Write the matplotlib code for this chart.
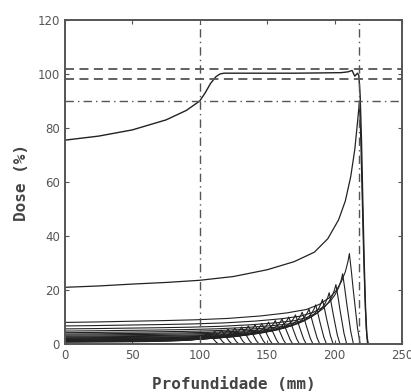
import matplotlib
matplotlib.use("Agg")
import matplotlib.pyplot as plt
import numpy as np

# spread-out Bragg peak (sum curve)
sobp_depth = [0, 25, 50, 75, 90, 100, 104, 108, 112, 115, 118, 130, 150, 170,
              190, 205, 210, 213, 215, 217, 218, 219, 220, 221, 222, 223, 224, 225]
sobp_dose = [75.5, 77.0, 79.3, 83.0, 86.5, 90.0, 93.0, 96.5, 99.0, 100.0, 100.3,
             100.3, 100.3, 100.3, 100.4, 100.5, 100.8, 101.3, 99.2, 100.3, 99.5,
             92.0, 75.0, 52.0, 30.0, 13.0, 3.0, 0.0]

# deepest pristine peak (range 218 mm)
main_depth = [0, 25, 50, 75, 100, 125, 150, 170, 185, 195, 203, 208, 212, 215,
              217, 218.5, 219.5, 220.5, 221.5, 222.5, 223.5, 224.5]
main_dose = [21.0, 21.5, 22.2, 22.8, 23.6, 25.0, 27.5, 30.5, 34.0, 39.0, 46.0,
             53.0, 62.0, 72.0, 82.0, 90.0, 75.0, 55.0, 35.0, 18.0, 6.0, 0.0]

# shallower weighted peaks: peak depth, peak dose, entrance dose
peak_depth = [211, 206, 201, 196, 191, 186, 181, 176, 171, 166, 161,
              156, 151, 146, 141, 136, 131, 126, 121, 116, 111, 106]
peak_dose = [33.5, 26.0, 22.0, 19.0, 16.5, 14.5, 13.0, 11.8, 10.8, 10.0, 9.3,
             8.7, 8.1, 7.6, 7.1, 6.7, 6.3, 5.9, 5.5, 5.1, 4.7, 4.3]
entrance_dose = [8.0, 6.7, 5.6, 4.8, 4.2, 3.7, 3.3, 2.9, 2.6, 2.3, 2.1,
                 1.9, 1.7, 1.5, 1.4, 1.3, 1.2, 1.1, 1.0, 0.9, 0.8, 0.7]

# peak shape, taken from the deepest curve (relative depth -> relative rise)
rise_u = [0, 0.115, 0.229, 0.344, 0.459, 0.573, 0.688, 0.780, 0.849, 0.894,
          0.931, 0.954, 0.972, 0.986, 0.995, 1.0]
rise_g = [0, 0.007, 0.017, 0.026, 0.038, 0.058, 0.094, 0.138, 0.188, 0.261,
          0.362, 0.464, 0.594, 0.739, 0.884, 1.0]
fall_mm = [1.5, 3, 4.5, 6, 8]
fall_frac = [0.8, 0.58, 0.38, 0.18, 0.0]

fig = plt.figure(figsize=(4.11, 3.92), dpi=100)
ax = fig.add_axes([0.158, 0.1224, 0.82, 0.8266])

line_c = '#222222'
ref_c = '#555555'

for R, P, E in zip(peak_depth, peak_dose, entrance_dose):
    x = [u * R for u in rise_u] + [R + d for d in fall_mm]
    y = [E + (P - E) * g for g in rise_g] + [P * f for f in fall_frac]
    ax.plot(x, y, color=line_c, lw=0.8)

ax.plot(main_depth, main_dose, color=line_c, lw=0.9)
ax.plot(sobp_depth, sobp_dose, color=line_c, lw=1.0)

# reference lines
ax.axhline(102, color=ref_c, lw=1.3, ls=(0, (5, 3)))
ax.axhline(98, color=ref_c, lw=1.3, ls=(0, (5, 3)))
ax.axhline(90, color=ref_c, lw=1.0, ls=(0, (6, 3, 1, 3)))
ax.axvline(100, color=ref_c, lw=1.0, ls=(0, (6, 3, 1, 3)))
ax.axvline(218, color=ref_c, lw=1.0, ls=(0, (6, 3, 1, 3)))

ax.set_xlim(0, 250)
ax.set_ylim(0, 120)
ax.set_xticks([0, 50, 100, 150, 200, 250])
ax.set_yticks([0, 20, 40, 60, 80, 100, 120])
ax.tick_params(direction='in', top=True, right=True, length=3,
               labelsize=8.5, colors='#555555', labelcolor='#555555')
for s in ax.spines.values():
    s.set_color('#555555')
    s.set_linewidth(1.4)

ax.set_xlabel('Profundidade (mm)', family='DejaVu Sans Mono', fontweight='bold',
              fontsize=11.5, color='#444444', labelpad=11)
ax.set_ylabel('Dose (%)', family='DejaVu Sans Mono', fontweight='bold',
              fontsize=11.5, color='#444444', labelpad=6)

fig.savefig('out.png', dpi=100, facecolor='white')
